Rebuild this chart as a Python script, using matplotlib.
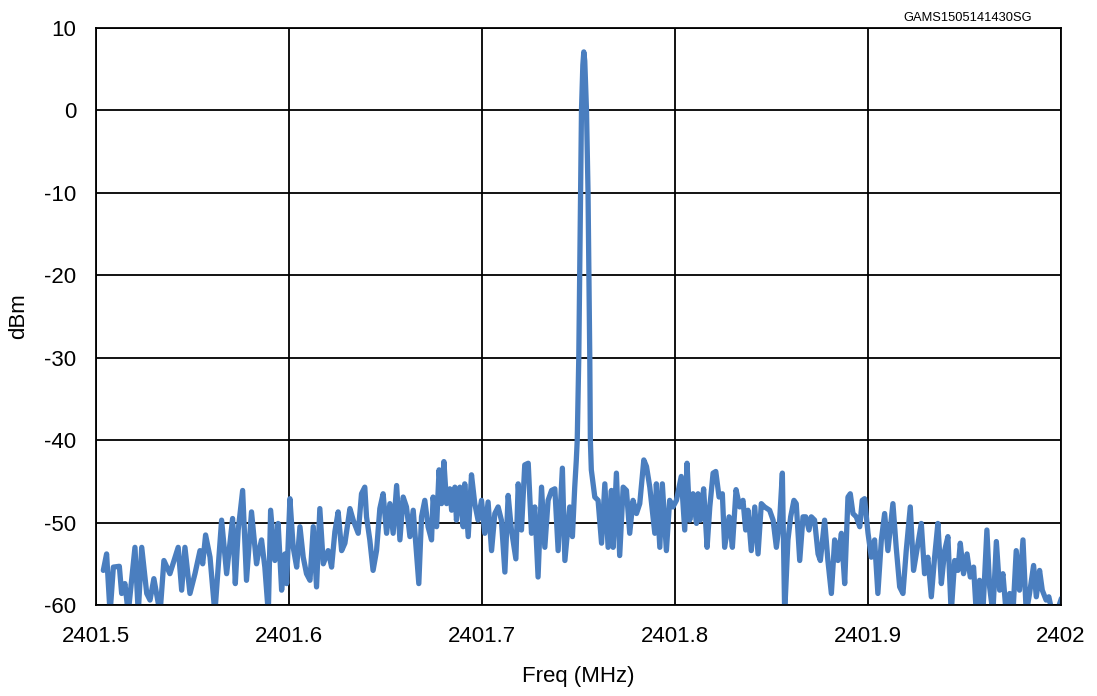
import matplotlib
matplotlib.use("Agg")
import matplotlib.pyplot as plt
import numpy as np

plt.rcParams['font.family'] = ['Liberation Sans', 'DejaVu Sans']
plt.rcParams['axes.unicode_minus'] = False

# offset from 2401.5 MHz in kHz, and level in dBm (values below -60 are clipped at the axis)
offset_khz = [
    3.8, 5.5, 7.3, 9.0, 12.1, 13.3, 15.0, 16.7, 20.2, 21.9, 23.7, 26.3, 28.0, 30.0,
    33.2, 35.2, 38.3, 42.6, 44.4, 46.1, 48.7, 51.3, 53.9, 55.3, 56.8, 59.1, 61.6,
    65.1, 67.7, 70.8, 72.2, 73.7, 76.0, 78.0, 80.6, 83.2, 84.1, 85.8, 87.5, 89.3,
    90.5, 92.7, 94.4, 96.2, 97.9, 98.8, 100.5, 102.2, 104.0, 105.7, 107.4, 109.1,
    110.9, 112.6, 114.3, 116.0, 117.8, 120.3, 122.1, 123.8, 125.5, 127.3, 129.0,
    131.6, 133.3, 135.9, 137.6, 139.3, 140.2, 141.9, 143.6, 145.4, 147.1, 148.8,
    150.6, 152.3, 154.0, 155.8, 157.5, 159.2, 160.9, 162.7, 164.4, 167.3, 168.7,
    170.4, 172.1, 173.9, 174.7, 176.5, 177.8, 179.1, 180.3, 181.7, 183.4, 184.3,
    186.0, 186.8, 188.6, 190.3, 191.1, 192.9, 194.6, 196.3, 198.0, 199.8, 201.5,
    203.2, 205.0, 206.7, 208.4, 210.1, 211.9, 213.6, 215.3, 217.6, 218.8, 220.5,
    222.2, 224.0, 225.7, 227.4, 229.1, 230.9, 232.6, 234.3, 236.1, 237.8, 239.5,
    241.7, 243.0, 245.5, 246.9, 248.1, 248.9, 249.4, 250.2, 251.1, 251.6, 252.3,
    252.8, 253.3, 254.2, 255.0, 255.9, 256.2, 256.7, 258.5, 260.2, 262.0, 263.7,
    265.4, 267.1, 268.0, 269.7, 271.4, 273.2, 274.9, 276.6, 278.3, 280.1, 281.8,
    283.9, 285.3, 287.0, 289.6, 290.4, 292.2, 293.5, 295.6, 297.3, 299.0, 300.8,
    303.3, 305.1, 306.3, 307.7, 309.4, 311.2, 312.0, 313.2, 314.9, 316.7, 318.1,
    319.8, 321.2, 322.9, 324.6, 325.8, 328.1, 329.8, 331.7, 333.6, 335.3, 336.7,
    337.9, 339.6, 341.4, 343.1, 344.8, 346.5, 349.1, 350.9, 352.6, 354.3, 355.7,
    356.9, 358.6, 360.0, 361.7, 362.9, 364.7, 366.4, 367.8, 369.5, 370.7, 372.4,
    374.2, 375.4, 377.6, 379.3, 381.1, 382.8, 384.5, 386.3, 388.0, 389.7, 390.9,
    392.3, 394.0, 395.8, 397.1, 398.3, 400.1, 401.8, 403.5, 405.2, 407.0, 408.7,
    410.4, 413.0, 414.7, 416.5, 418.2, 419.9, 422.0, 423.7, 425.4, 427.7, 429.4,
    431.1, 432.9, 434.6, 436.3, 438.1, 439.8, 441.5, 443.2, 445.0, 446.7, 447.9,
    449.6, 451.4, 453.1, 454.8, 456.2, 457.9, 459.6, 461.7, 463.1, 464.8, 466.6,
    468.3, 470.0, 471.7, 473.5, 475.2, 476.9, 478.6, 480.4, 482.1, 483.8, 485.9,
    487.3, 489.0, 490.4, 492.4, 493.8, 495.6, 497.8, 500.3,
]
level_dbm = [
    -55.8, -53.8, -61, -55.4, -55.3, -58.6, -57.4, -61, -53.0, -61, -53.0, -58.6, -59.4, -56.8,
    -61, -54.6, -56.2, -53.0, -58.2, -53.0, -58.6, -56.2, -53.4, -55.0, -51.5, -54.2, -61,
    -49.7, -56.2, -49.5, -57.4, -50.9, -46.1, -57.0, -48.7, -55.0, -53.8, -52.1, -55.4, -61,
    -48.5, -54.6, -50.1, -58.2, -53.8, -57.4, -47.1, -53.0, -55.4, -50.5, -54.2, -56.2,
    -57.0, -50.5, -57.8, -48.3, -55.0, -53.4, -55.4, -51.1, -48.7, -53.4, -52.5,
    -48.3, -49.7, -51.3, -46.5, -45.7, -49.3, -52.1, -55.8, -53.4, -48.3, -46.5,
    -51.3, -47.7, -51.3, -45.5, -52.1, -46.9, -48.1, -51.7, -48.5, -57.4, -49.3,
    -47.3, -50.5, -52.1, -46.9, -50.5, -43.6, -47.7, -42.6, -47.7, -45.9, -48.5,
    -45.7, -49.7, -45.7, -50.5, -45.3, -51.7, -44.2, -47.7, -49.7, -47.3, -51.3,
    -47.5, -53.4, -48.9, -48.1, -49.7, -56.0, -46.7, -50.9, -54.4, -45.3, -50.9,
    -43.0, -42.8, -51.3, -48.1, -56.6, -45.7, -53.0, -47.3, -46.1, -45.9, -53.4,
    -43.4, -54.6, -48.1, -51.7, -45.7, -42.5, -40.0, -30.0, -10.0, 0.0, 5.5,
    7.1, 6.0, 0.0, -10.0, -30.0, -40.0, -43.6, -46.9, -47.3, -52.5, -45.3,
    -53.0, -46.1, -53.0, -44.0, -54.0, -45.7, -46.1, -51.3, -47.3, -48.9, -47.7,
    -42.4, -43.2, -45.7, -51.3, -45.3, -53.0, -45.3, -53.4, -47.3, -48.1, -47.3,
    -44.4, -50.9, -42.8, -49.7, -46.5, -50.1, -46.5, -49.7, -45.9, -53.0, -48.1,
    -44.0, -43.8, -46.9, -46.5, -53.0, -49.3, -53.0, -46.0, -48.1, -47.3, -50.9,
    -48.5, -53.4, -48.1, -53.8, -47.7, -48.1, -48.5, -49.7, -53.0, -49.7, -44.0,
    -61, -52.1, -49.3, -47.3, -47.7, -54.6, -49.3, -49.3, -50.9, -49.3, -49.7,
    -53.8, -54.6, -49.7, -54.6, -58.6, -52.1, -54.6, -51.3, -57.4, -46.9, -46.5,
    -48.9, -49.3, -50.5, -47.3, -47.1, -51.3, -54.2, -52.1, -58.6, -52.1, -48.9,
    -53.4, -47.7, -53.0, -57.8, -58.6, -53.4, -48.1, -55.8, -53.4, -50.1, -56.2,
    -54.2, -59.0, -54.2, -50.1, -57.4, -53.4, -51.7, -61, -54.6, -55.8, -52.5,
    -56.2, -53.8, -56.6, -55.4, -61, -57.0, -61, -50.9, -57.8, -61, -52.3,
    -58.2, -56.2, -61, -58.6, -61, -53.4, -58.2, -52.1, -61, -58.6, -55.2,
    -59.0, -55.8, -58.2, -59.4, -59.0, -61, -61, -59.2,
]

freq = 2401.5 + np.array(offset_khz) / 1000.0

x_ticks = [2401.5, 2401.6, 2401.7, 2401.8, 2401.9, 2402]
x_labels = ['2401.5', '2401.6', '2401.7', '2401.8', '2401.9', '2402']
y_ticks = [10, 0, -10, -20, -30, -40, -50, -60]

fig = plt.figure(figsize=(10.97, 6.96), dpi=100)
ax = fig.add_axes([0.0875, 0.1307, 0.8795, 0.8291])

ax.plot(freq, level_dbm, color='#4A7EBF', linewidth=3.8,
        solid_joinstyle='round', solid_capstyle='round')

ax.set_xlim(2401.5, 2402)
ax.set_ylim(-60, 10)
ax.set_xticks(x_ticks)
ax.set_xticklabels(x_labels)
ax.set_yticks(y_ticks)
ax.grid(True, color='black', linewidth=1.3)
ax.set_axisbelow(True)
for s in ax.spines.values():
    s.set_color('black')
    s.set_linewidth(1.3)
ax.tick_params(axis='both', length=0, labelsize=16)
ax.tick_params(axis='x', pad=15)
ax.tick_params(axis='y', pad=14)

ax.set_xlabel('Freq (MHz)', fontsize=16, labelpad=14)
ax.set_ylabel('dBm', fontsize=16, labelpad=11)
fig.text(0.941, 0.974, 'GAMS1505141430SG', ha='right', va='center', fontsize=9.3)

fig.savefig('out.png', dpi=100)
